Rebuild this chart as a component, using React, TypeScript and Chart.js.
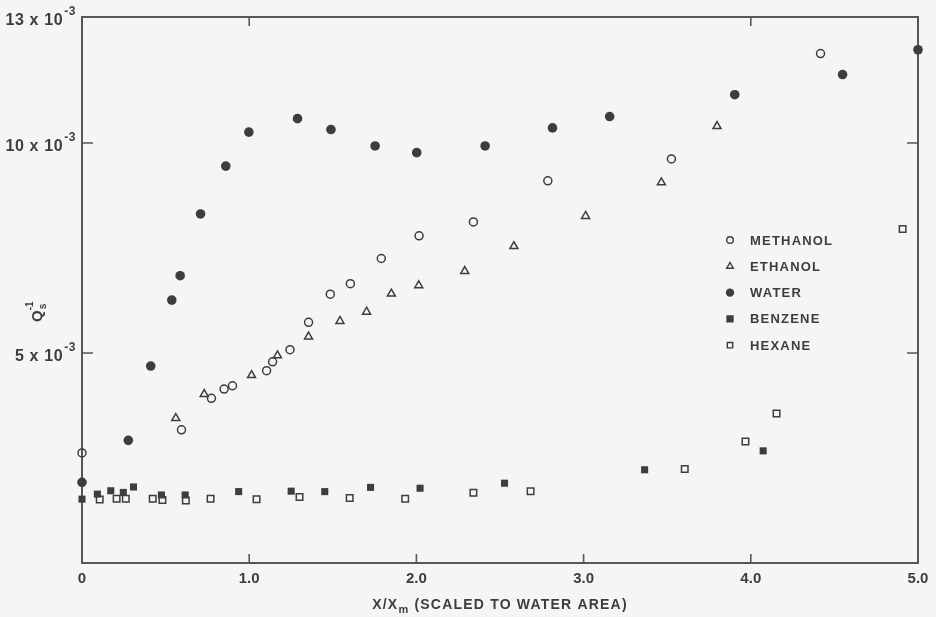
import React, { useEffect, useRef } from 'react';
import { Chart, registerables } from 'chart.js';
import { drawPoint } from 'chart.js/helpers';

Chart.register(...registerables);

// Reciprocal adsorption quantity Q_s^-1 (in units of 1e-3) against relative coverage X/X_m
const methanolX = [0, 0.595, 0.774, 0.85, 0.9, 1.104, 1.14, 1.244, 1.355, 1.485, 1.605, 1.79, 2.016, 2.341, 2.786, 3.525, 4.417];
const methanolY = [2.62, 3.17, 3.92, 4.14, 4.22, 4.58, 4.79, 5.08, 5.73, 6.4, 6.65, 7.25, 7.79, 8.12, 9.1, 9.62, 12.13];

const ethanolX = [0.561, 0.731, 1.014, 1.169, 1.355, 1.543, 1.702, 1.85, 2.014, 2.289, 2.583, 3.012, 3.465, 3.798];
const ethanolY = [3.45, 4.02, 4.47, 4.94, 5.39, 5.76, 5.98, 6.41, 6.61, 6.95, 7.54, 8.26, 9.06, 10.4];

const waterX = [0, 0.277, 0.411, 0.537, 0.587, 0.709, 0.86, 0.998, 1.289, 1.489, 1.753, 2.002, 2.411, 2.814, 3.156, 3.904, 4.549, 5.0];
const waterY = [1.92, 2.92, 4.69, 6.26, 6.84, 8.31, 9.45, 10.26, 10.58, 10.32, 9.93, 9.77, 9.93, 10.36, 10.63, 11.15, 11.63, 12.22];

const benzeneX = [0, 0.092, 0.172, 0.247, 0.308, 0.475, 0.617, 0.937, 1.251, 1.452, 1.726, 2.022, 2.527, 3.365, 4.074];
const benzeneY = [1.52, 1.64, 1.72, 1.68, 1.81, 1.62, 1.62, 1.7, 1.71, 1.7, 1.8, 1.78, 1.9, 2.22, 2.67];

const hexaneX = [0.106, 0.207, 0.262, 0.423, 0.481, 0.621, 0.769, 1.044, 1.301, 1.601, 1.933, 2.341, 2.683, 3.605, 3.968, 4.154, 4.908];
const hexaneY = [1.51, 1.53, 1.53, 1.53, 1.5, 1.49, 1.53, 1.52, 1.57, 1.55, 1.53, 1.67, 1.71, 2.24, 2.89, 3.56, 7.95];

const seriesNames = ['METHANOL', 'ETHANOL', 'WATER', 'BENZENE', 'HEXANE'];

const xTickValues = [0, 1, 2, 3, 4, 5];
const xTickLabels = ['0', '1.0', '2.0', '3.0', '4.0', '5.0'];
const xInnerTicksBottom = [1, 2, 3, 4];
const xInnerTicksTop = [1, 4];
const yTickValues = [5, 10, 13];
const yTickMantissa = ['5', '10', '13'];
const yInnerTicks = [5, 10];

const INK = '#3d3d3d';
const AXIS = '#575757';
const PAPER = '#f5f5f3';
const FONT = '"Liberation Sans", Arial, sans-serif';

const toPoints = (xs: number[], ys: number[]) => xs.map((x, i) => ({ x, y: ys[i] }));

const paperPlugin = {
  id: 'paperFrame',
  beforeDraw(chart: any) {
    const { ctx, width, height } = chart;
    ctx.save();
    ctx.fillStyle = PAPER;
    ctx.fillRect(0, 0, width, height);
    ctx.restore();
  },
  beforeDatasetsDraw(chart: any) {
    const { ctx, chartArea: a, scales } = chart;
    const xs = scales.x;
    const ys = scales.y;
    ctx.save();
    ctx.strokeStyle = AXIS;
    ctx.lineWidth = 2;
    ctx.strokeRect(a.left, a.top, a.right - a.left, a.bottom - a.top);
    ctx.lineWidth = 1.6;
    ctx.beginPath();
    for (const v of xInnerTicksBottom) {
      const px = xs.getPixelForValue(v);
      ctx.moveTo(px, a.bottom);
      ctx.lineTo(px, a.bottom - 9);
    }
    for (const v of xInnerTicksTop) {
      const px = xs.getPixelForValue(v);
      ctx.moveTo(px, a.top);
      ctx.lineTo(px, a.top + 9);
    }
    for (const v of yInnerTicks) {
      const py = ys.getPixelForValue(v);
      ctx.moveTo(a.left, py);
      ctx.lineTo(a.left + 11, py);
      ctx.moveTo(a.right, py);
      ctx.lineTo(a.right - 11, py);
    }
    ctx.stroke();
    ctx.restore();
  },
  afterDraw(chart: any) {
    const { ctx, chartArea: a, scales } = chart;
    const xs = scales.x;
    const ys = scales.y;
    ctx.save();
    ctx.fillStyle = INK;

    // x tick labels
    ctx.font = `bold 15px ${FONT}`;
    ctx.textAlign = 'center';
    ctx.textBaseline = 'alphabetic';
    xTickValues.forEach((v, i) => {
      ctx.fillText(xTickLabels[i], xs.getPixelForValue(v), a.bottom + 20);
    });

    // y tick labels: "13 x 10^-3"
    ctx.textAlign = 'left';
    (ctx as any).letterSpacing = '0.6px';
    const rightEdge = a.left - 6;
    yTickValues.forEach((v, i) => {
      const py = ys.getPixelForValue(v) + 2;
      const main = `${yTickMantissa[i]} x 10`;
      ctx.font = `bold 12px ${FONT}`;
      const supW = ctx.measureText('-3').width;
      ctx.font = `bold 16px ${FONT}`;
      const mainW = ctx.measureText(main).width;
      const x0 = rightEdge - supW - mainW - 1;
      ctx.fillText(main, x0, py + 6);
      ctx.font = `bold 12px ${FONT}`;
      ctx.fillText('-3', x0 + mainW + 1, py - 4);
    });

    // x axis title
    (ctx as any).letterSpacing = '1.2px';
    ctx.font = `bold 14px ${FONT}`;
    const t1 = 'X/X';
    const t3 = ' (SCALED TO WATER AREA)';
    const w1 = ctx.measureText(t1).width;
    const w3 = ctx.measureText(t3).width;
    ctx.font = `bold 11px ${FONT}`;
    const w2 = ctx.measureText('m').width;
    const cx = (a.left + a.right) / 2;
    const base = a.bottom + 46;
    let tx = cx - (w1 + w2 + w3) / 2;
    ctx.font = `bold 14px ${FONT}`;
    ctx.fillText(t1, tx, base);
    tx += w1;
    ctx.font = `bold 11px ${FONT}`;
    ctx.fillText('m', tx, base + 4);
    tx += w2;
    ctx.font = `bold 14px ${FONT}`;
    ctx.fillText(t3, tx, base);

    // y axis title: Q_s^-1
    ctx.save();
    ctx.translate(42, (a.top + a.bottom) / 2 + 32);
    ctx.rotate(-Math.PI / 2);
    (ctx as any).letterSpacing = '0px';
    ctx.font = `bold 15px ${FONT}`;
    const qW = ctx.measureText('Q').width;
    ctx.fillText('Q', 0, 0);
    ctx.font = `bold 10px ${FONT}`;
    ctx.fillText('s', qW + 1, 4);
    ctx.fillText('-1', qW, -9);
    ctx.restore();

    // legend
    (ctx as any).letterSpacing = '1.2px';
    const lx = a.left + 648;
    const ly0 = a.top + 223;
    const step = 26.3;
    chart.data.datasets.forEach((ds: any, i: number) => {
      const y = ly0 + step * i;
      ctx.save();
      ctx.fillStyle = ds.backgroundColor;
      ctx.strokeStyle = ds.borderColor;
      ctx.lineWidth = 1.4;
      drawPoint(ctx, { pointStyle: ds.pointStyle, radius: ds.legendRadius, borderWidth: 1.4, rotation: 0 } as any, lx, y);
      ctx.restore();
      ctx.fillStyle = INK;
      ctx.font = `bold 13px ${FONT}`;
      ctx.textBaseline = 'middle';
      ctx.fillText(ds.label, lx + 20, y + 1);
    });
    ctx.restore();
  },
};

export default function App() {
  const canvasRef = useRef<HTMLCanvasElement | null>(null);

  useEffect(() => {
    const canvas = canvasRef.current;
    if (!canvas) return;
    const open = 'rgba(0,0,0,0)';
    const chart = new Chart(canvas, {
      type: 'scatter',
      data: {
        datasets: [
          { label: seriesNames[0], data: toPoints(methanolX, methanolY), pointStyle: 'circle', pointRadius: 4, borderWidth: 1.5, borderColor: INK, backgroundColor: open, legendRadius: 3.3 } as any,
          { label: seriesNames[1], data: toPoints(ethanolX, ethanolY), pointStyle: 'triangle', pointRadius: 4.6, borderWidth: 1.5, borderColor: INK, backgroundColor: open, legendRadius: 3.8 } as any,
          { label: seriesNames[2], data: toPoints(waterX, waterY), pointStyle: 'circle', pointRadius: 4.8, borderWidth: 0, borderColor: INK, backgroundColor: INK, legendRadius: 3.5 } as any,
          { label: seriesNames[3], data: toPoints(benzeneX, benzeneY), pointStyle: 'rect', pointRadius: 5, borderWidth: 0, borderColor: INK, backgroundColor: INK, legendRadius: 4.2 } as any,
          { label: seriesNames[4], data: toPoints(hexaneX, hexaneY), pointStyle: 'rect', pointRadius: 4.6, borderWidth: 1.5, borderColor: INK, backgroundColor: open, legendRadius: 3.8 } as any,
        ],
      },
      options: {
        responsive: false,
        animation: false,
        layout: { padding: { left: 82, right: 18, top: 17, bottom: 54 } },
        plugins: { legend: { display: false }, tooltip: { enabled: false } },
        elements: { point: { hoverRadius: 4 } },
        datasets: { scatter: { clip: false } as any },
        scales: {
          x: { type: 'linear', min: 0, max: 5, display: false },
          y: { type: 'linear', min: 0, max: 13, display: false },
        },
      },
      plugins: [paperPlugin],
    });
    return () => chart.destroy();
  }, []);

  return (
    <div style={{ position: 'absolute', left: 0, top: 0, width: 936, height: 617, background: PAPER }}>
      <canvas ref={canvasRef} width={936} height={617} style={{ display: 'block' }} />
    </div>
  );
}
